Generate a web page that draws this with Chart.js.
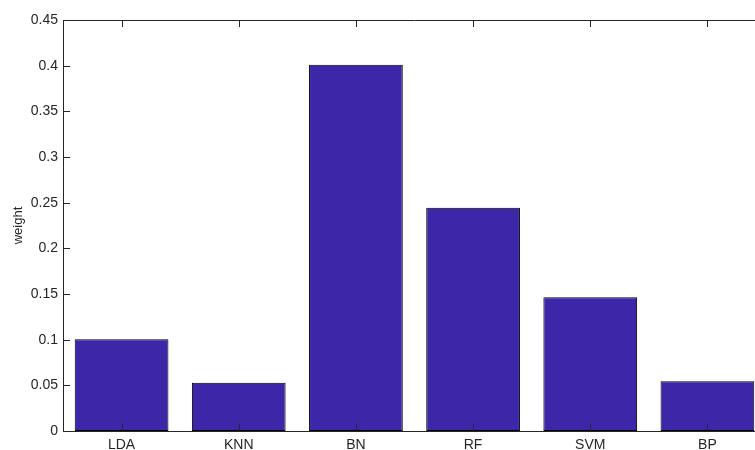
<!DOCTYPE html>
<html>
<head>
<meta charset="utf-8">
<script src="https://cdn.jsdelivr.net/npm/chart.js@4"></script>
<style>
  html, body { margin: 0; padding: 0; background: #fff; overflow: hidden; }
  #wrap { width: 790px; height: 450px; }
</style>
</head>
<body>
<div id="wrap"><canvas id="chart"></canvas></div>
<script>
// données
const categories = ["LDA", "KNN", "BN", "RF", "SVM", "BP"];
const weights = [0.1005, 0.0528, 0.401, 0.2445, 0.1465, 0.0545];
const yTicks = [0, 0.05, 0.1, 0.15, 0.2, 0.25, 0.3, 0.35, 0.4, 0.45];

const axisColor = "#262626";
const fontSpec = { family: "'Liberation Sans', Arial, Helvetica, sans-serif", size: 14 };

// boîte MATLAB : ligne du haut + petites graduations vers l'intérieur
const matlabBox = {
  id: "matlabBox",
  afterDraw(chart) {
    const { ctx, chartArea: a, scales } = chart;
    ctx.save();
    ctx.strokeStyle = axisColor;
    ctx.lineWidth = 1;
    ctx.beginPath();
    ctx.moveTo(a.left, a.top + 0.5);
    ctx.lineTo(a.right, a.top + 0.5);
    ctx.moveTo(a.right - 0.5, a.top);
    ctx.lineTo(a.right - 0.5, a.bottom);
    ctx.moveTo(a.left, a.bottom + 0.5);
    ctx.lineTo(a.right, a.bottom + 0.5);
    // graduations x (haut et bas)
    categories.forEach((c, i) => {
      const x = Math.round(scales.x.getPixelForValue(i)) + 0.5;
      ctx.moveTo(x, a.top);
      ctx.lineTo(x, a.top + 7);
      ctx.moveTo(x, a.bottom);
      ctx.lineTo(x, a.bottom - 7);
    });
    // graduations y (gauche et droite)
    yTicks.forEach(v => {
      const y = Math.round(scales.y.getPixelForValue(v)) + 0.5;
      ctx.moveTo(a.left, y);
      ctx.lineTo(a.left + 7, y);
      ctx.moveTo(a.right, y);
      ctx.lineTo(a.right - 7, y);
    });
    ctx.stroke();
    ctx.restore();
  }
};

new Chart(document.getElementById("chart"), {
  type: "bar",
  data: {
    labels: categories,
    datasets: [{
      label: "weight",
      data: weights,
      backgroundColor: "rgb(62, 38, 168)",
      borderColor: "#000",
      borderWidth: 1,
      borderSkipped: false,
      barPercentage: 0.8,
      categoryPercentage: 1.0
    }]
  },
  options: {
    responsive: true,
    maintainAspectRatio: false,
    animation: false,
    layout: { padding: { top: 20, right: 24, left: 0, bottom: 0 } },
    plugins: {
      legend: { display: false },
      tooltip: { enabled: false }
    },
    scales: {
      x: {
        grid: { display: false, drawTicks: false },
        border: { display: true, color: axisColor, width: 1 },
        ticks: { color: axisColor, font: fontSpec, padding: 6, maxRotation: 0 },
        afterFit: s => { s.height = 19; }
      },
      y: {
        min: 0,
        max: 0.45,
        afterBuildTicks: s => { s.ticks = yTicks.map(v => ({ value: v })); },
        grid: { display: false, drawTicks: false },
        border: { display: true, color: axisColor, width: 1 },
        ticks: {
          color: axisColor,
          font: fontSpec,
          padding: 5,
          callback: v => String(Math.round(v * 100) / 100)
        },
        title: {
          display: true,
          text: "weight",
          color: axisColor,
          font: { family: fontSpec.family, size: 13 },
          padding: { top: 11, bottom: 0 }
        },
        afterFit: s => { s.width = 63; }
      }
    }
  },
  plugins: [matlabBox]
});
</script>
</body>
</html>
